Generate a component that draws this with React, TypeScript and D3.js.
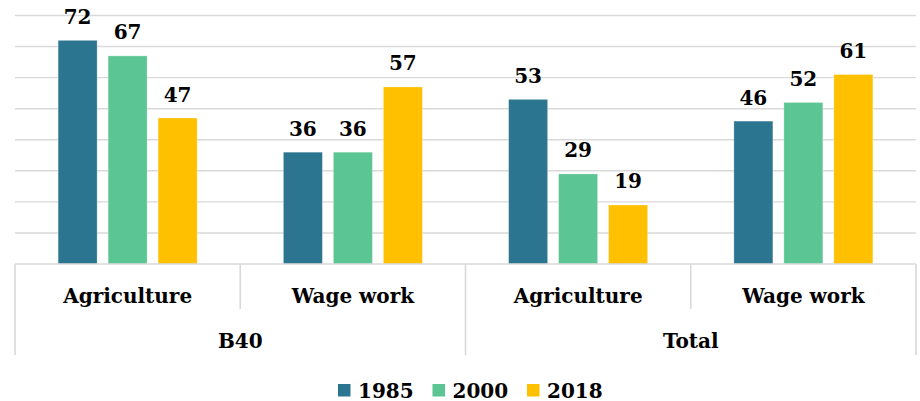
import React from "react";
import * as d3 from "d3";

const groups = ["B40", "Total"];
const subCategories = ["Agriculture", "Wage work"];
const seriesNames = ["1985", "2000", "2018"];
const seriesColors = ["#2C7590", "#5CC594", "#FFC000"];
const values1985 = [72, 36, 53, 46];
const values2000 = [67, 36, 29, 52];
const values2018 = [47, 57, 19, 61];
const yTicks = [0, 10, 20, 30, 40, 50, 60, 70, 80];

const W = 920;
const H = 401;
const FONT = "'DejaVu Serif', serif";

export default function App() {
  const left = 15;
  const right = 916;
  const baseY = 264;
  const topY = 15.5;

  const cats = groups.flatMap((g) => subCategories.map((s) => `${g}|${s}`));
  const series = [values1985, values2000, values2018];

  const x = d3.scaleBand<string>().domain(cats).range([left, right]).paddingInner(0).paddingOuter(0);
  const y = d3.scaleLinear().domain([0, 80]).range([baseY, topY]);
  const groupW = 139;
  const inner = d3
    .scaleBand<string>()
    .domain(seriesNames)
    .range([0, groupW])
    .paddingInner(0.22)
    .paddingOuter(0);

  const gridColor = "#D9D9D9";
  const groupSpan = x.bandwidth() * subCategories.length;

  return (
    <svg width={W} height={H} style={{ position: "absolute", left: 0, top: 0 }}>
      <rect x={0} y={0} width={W} height={H} fill="#fff" />
      {yTicks.slice(1).map((t) => (
        <line key={t} x1={left} x2={right} y1={y(t)} y2={y(t)} stroke={gridColor} strokeWidth={1.4} />
      ))}
      {cats.map((c, ci) => {
        const x0 = (x(c) as number) + (x.bandwidth() - groupW) / 2;
        return (
          <g key={c}>
            {series.map((vals, si) => {
              const bx = x0 + (inner(seriesNames[si]) as number);
              const v = vals[ci];
              return (
                <g key={si}>
                  <rect
                    x={bx}
                    y={y(v)}
                    width={inner.bandwidth()}
                    height={baseY - y(v)}
                    fill={seriesColors[si]}
                    stroke="#ffffff"
                    strokeOpacity={0.35}
                    strokeWidth={0.8}
                  />
                  <text
                    x={bx + inner.bandwidth() / 2}
                    y={y(v) - 16.5}
                    textAnchor="middle"
                    fontFamily={FONT}
                    fontWeight="bold"
                    fontSize={20}
                    fill="#000"
                  >
                    {v}
                  </text>
                </g>
              );
            })}
          </g>
        );
      })}
      {/* axis baseline */}
      <line x1={left} x2={right} y1={baseY} y2={baseY} stroke={gridColor} strokeWidth={1.6} />
      {/* short dividers between sub-categories */}
      {cats.map((c, ci) =>
        ci % subCategories.length !== 0 ? (
          <line key={"d" + c} x1={x(c)} x2={x(c)} y1={baseY} y2={309} stroke={gridColor} strokeWidth={1.6} />
        ) : null
      )}
      {/* long dividers between groups */}
      {d3.range(groups.length + 1).map((i) => {
        const gx = left + i * groupSpan;
        return <line key={"g" + i} x1={gx} x2={gx} y1={baseY} y2={355} stroke={gridColor} strokeWidth={1.6} />;
      })}
      {cats.map((c) => (
        <text
          key={"l" + c}
          x={(x(c) as number) + x.bandwidth() / 2}
          y={303}
          textAnchor="middle"
          fontFamily={FONT}
          fontWeight="bold"
          fontSize={20}
          fill="#000"
        >
          {c.split("|")[1]}
        </text>
      ))}
      {groups.map((g, gi) => (
        <text
          key={"gl" + g}
          x={left + gi * groupSpan + groupSpan / 2}
          y={348}
          textAnchor="middle"
          fontFamily={FONT}
          fontWeight="bold"
          fontSize={20}
          fill="#000"
        >
          {g}
        </text>
      ))}
      {seriesNames.map((s, si) => {
        const lx = 338 + si * 94.5;
        return (
          <g key={"lg" + s}>
            <rect x={lx} y={384} width={12.5} height={12.5} fill={seriesColors[si]} />
            <text x={lx + 20} y={397.5} fontFamily={FONT} fontWeight="bold" fontSize={20} fill="#000">
              {s}
            </text>
          </g>
        );
      })}
    </svg>
  );
}
